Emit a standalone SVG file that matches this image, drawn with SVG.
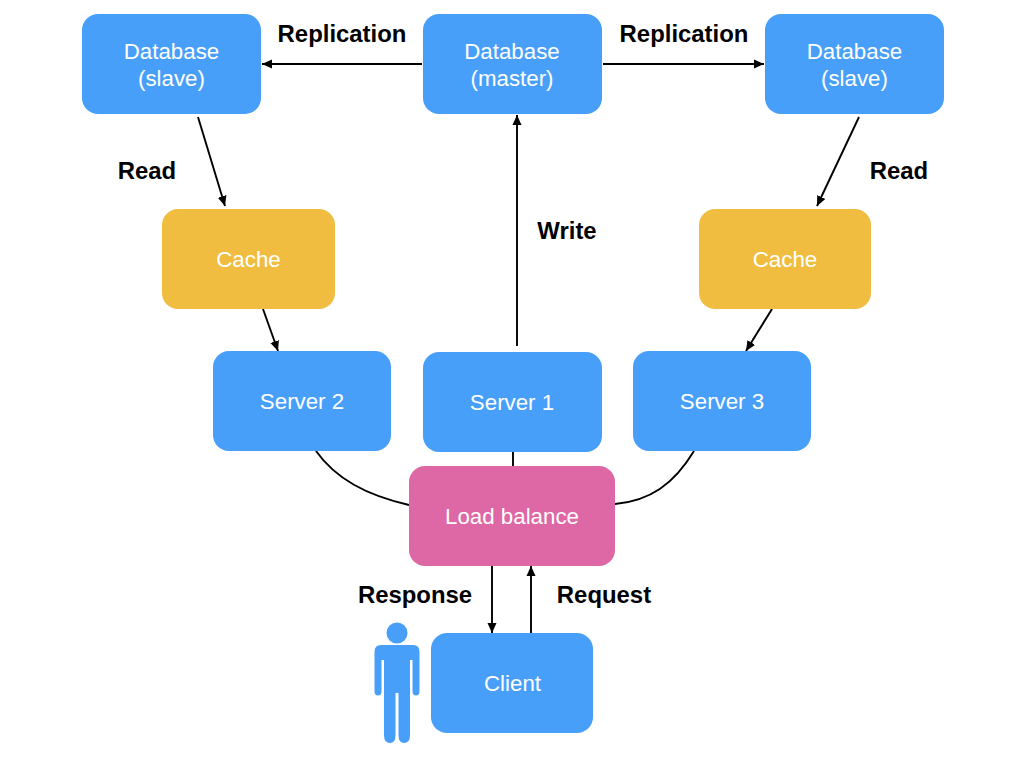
<svg xmlns="http://www.w3.org/2000/svg" width="1024" height="768" viewBox="0 0 1024 768">
<style>
text{font-family:"Liberation Sans",Arial,sans-serif}
.n{font-size:22.300px;fill:#fff;text-anchor:middle;font-weight:400}
.l{font-size:23.900px;fill:#000;font-weight:700;text-anchor:middle}
.b{fill:#489ffa}.y{fill:#f0bd40}.p{fill:#de68a5}
.c{fill:none;stroke:#000;stroke-width:1.900}
.a{marker-end:url(#ah)}
</style>
<defs><marker id="ah" markerUnits="userSpaceOnUse" markerWidth="11" markerHeight="10" refX="10" refY="5" orient="auto"><path d="M0 0.500L10 5L0 9.500Z" fill="#000"/></marker></defs>
<rect width="1024" height="768" fill="#fff"/>
<g id="connectors">
<path class="c a" d="M422 64H262"/>
<path class="c a" d="M603 64H764"/>
<path class="c a" d="M198 117L225 206"/>
<path class="c a" d="M859 117L817 206"/>
<path class="c a" d="M263 309L278 351"/>
<path class="c a" d="M772 309L746 351"/>
<path class="c a" d="M517 346V115"/>
<path class="c" d="M513 451V466"/>
<path class="c" d="M316 451C336 479 366 495 409 505"/>
<path class="c" d="M694 451C674 484 650 501 615 504"/>
<path class="c a" d="M492 565V633"/>
<path class="c a" d="M531 633V566"/>
</g>
<g id="db-slave-left"><rect class="b" x="82" y="14" width="179" height="100" rx="16"/><text class="n" x="171.500" y="59">Database</text><text class="n" x="171.500" y="86">(slave)</text></g>
<g id="db-master"><rect class="b" x="423" y="14" width="179" height="100" rx="16"/><text class="n" x="512" y="59">Database</text><text class="n" x="512" y="86">(master)</text></g>
<g id="db-slave-right"><rect class="b" x="765" y="14" width="179" height="100" rx="16"/><text class="n" x="854.500" y="59">Database</text><text class="n" x="854.500" y="86">(slave)</text></g>
<g id="cache-left"><rect class="y" x="162" y="209" width="173" height="100" rx="16"/><text class="n" x="248.500" y="267">Cache</text></g>
<g id="cache-right"><rect class="y" x="699" y="209" width="172" height="100" rx="16"/><text class="n" x="785" y="267">Cache</text></g>
<g id="server-2"><rect class="b" x="213" y="351" width="178" height="100" rx="16"/><text class="n" x="302" y="409">Server 2</text></g>
<g id="server-1"><rect class="b" x="423" y="352" width="179" height="100" rx="16"/><text class="n" x="512" y="410">Server 1</text></g>
<g id="server-3"><rect class="b" x="633" y="351" width="178" height="100" rx="16"/><text class="n" x="722" y="409">Server 3</text></g>
<g id="load-balance"><rect class="p" x="409" y="466" width="206" height="100" rx="16"/><text class="n" x="512" y="524">Load balance</text></g>
<g id="client"><rect class="b" x="431" y="633" width="162" height="100" rx="16"/><text class="n" x="512.500" y="691">Client</text></g>
<g id="person" class="b"><circle cx="397" cy="633" r="10.500"/><path d="M381 645H413Q419.500 645 419.500 652V691Q419.500 695.500 416 695.500Q412.500 695.500 412.500 691V660H410V735Q410 743 404 743Q398.500 743 398.500 735V693H395.500V735Q395.500 743 390 743Q384 743 384 735V660H381.500V691Q381.500 695.500 378 695.500Q374.500 695.500 374.500 691V652Q374.500 645 381 645Z"/></g>
<g id="labels">
<text class="l" x="342" y="42">Replication</text>
<text class="l" x="684" y="42">Replication</text>
<text class="l" x="147" y="179">Read</text>
<text class="l" x="899" y="179">Read</text>
<text class="l" x="567" y="239">Write</text>
<text class="l" x="415" y="603">Response</text>
<text class="l" x="604" y="603">Request</text>
</g>
</svg>
